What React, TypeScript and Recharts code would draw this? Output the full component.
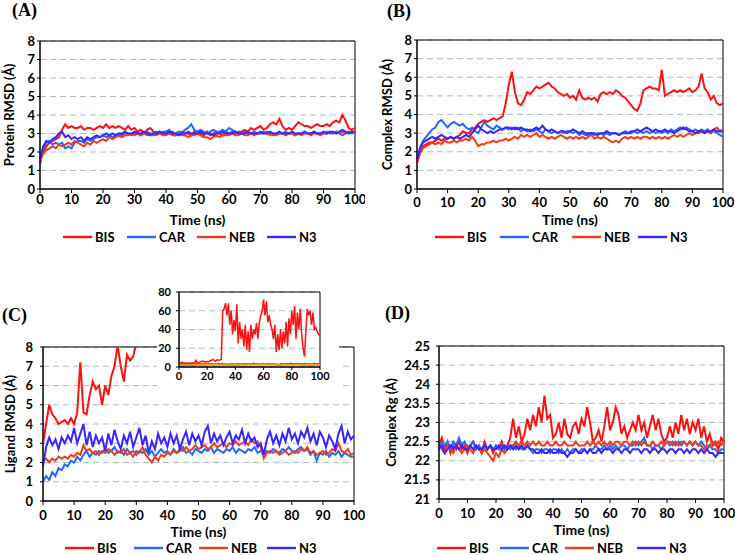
import React from 'react';
import { LineChart, Line, XAxis, YAxis, CartesianGrid, ReferenceArea, Label } from 'recharts';

const TIME = [
  0, 1, 2, 3, 4, 5, 6, 7, 8, 9, 10, 11, 12, 13, 14, 15, 16, 17, 18, 19,
  20, 21, 22, 23, 24, 25, 26, 27, 28, 29, 30, 31, 32, 33, 34, 35, 36, 37, 38, 39,
  40, 41, 42, 43, 44, 45, 46, 47, 48, 49, 50, 51, 52, 53, 54, 55, 56, 57, 58, 59,
  60, 61, 62, 63, 64, 65, 66, 67, 68, 69, 70, 71, 72, 73, 74, 75, 76, 77, 78, 79,
  80, 81, 82, 83, 84, 85, 86, 87, 88, 89, 90, 91, 92, 93, 94, 95, 96, 97, 98, 99, 100,
];

const SERIES = ['BIS', 'CAR', 'NEB', 'N3'];
const X_TICKS = [0, 10, 20, 30, 40, 50, 60, 70, 80, 90, 100];
const RMSD_TICKS = [0, 1, 2, 3, 4, 5, 6, 7, 8];
const RG_TICKS = [21, 21.5, 22, 22.5, 23, 23.5, 24, 24.5, 25];
const INSET_X_TICKS = [0, 20, 40, 60, 80, 100];
const INSET_Y_TICKS = [0, 20, 40, 60, 80];

// (A) Protein RMSD
const A_BIS = [
  1.5, 2.0, 2.3, 2.5, 2.6, 2.7, 2.8, 3.2, 3.5, 3.3, 3.4, 3.3, 3.3, 3.4, 3.2, 3.3, 3.3, 3.2, 3.3, 3.4,
  3.3, 3.5, 3.3, 3.4, 3.3, 3.4, 3.3, 3.2, 3.4, 3.2, 3.3, 3.1, 3.2, 3.0, 3.2, 3.3, 3.1, 3.0, 3.1, 3.0,
  3.1, 3.0, 3.1, 2.9, 3.0, 3.1, 3.0, 3.0, 2.9, 3.1, 3.0, 3.0, 2.9, 3.1, 2.9, 3.0, 3.1, 3.0, 2.9, 3.1,
  3.0, 3.1, 3.0, 3.1, 3.1, 3.2, 3.1, 3.3, 3.2, 3.3, 3.4, 3.2, 3.3, 3.5, 3.6, 3.5, 3.8, 3.4, 3.2, 3.3,
  3.2, 3.4, 3.6, 3.5, 3.4, 3.4, 3.3, 3.4, 3.5, 3.4, 3.4, 3.5, 3.4, 3.6, 3.7, 3.6, 4.0, 3.7, 3.3, 3.2, 3.3,
];
const A_CAR = [
  1.3, 2.2, 2.5, 2.6, 2.4, 2.5, 2.4, 2.5, 2.2, 2.3, 2.2, 2.5, 2.6, 2.6, 2.5, 2.7, 2.6, 2.7, 2.8, 2.8,
  2.9, 2.8, 2.9, 2.8, 2.9, 3.0, 2.9, 3.0, 3.0, 2.9, 3.0, 3.0, 2.9, 3.0, 3.1, 3.0, 3.0, 3.1, 3.0, 3.1,
  3.1, 3.2, 3.0, 3.0, 3.1, 3.0, 3.2, 3.3, 3.5, 3.2, 3.1, 3.2, 3.1, 3.0, 3.1, 3.2, 3.1, 3.1, 3.2, 3.1,
  3.3, 3.2, 3.1, 3.0, 3.0, 3.1, 3.0, 3.0, 3.1, 3.0, 3.0, 3.0, 3.1, 3.0, 2.9, 3.0, 3.0, 3.0, 3.1, 3.0,
  3.0, 2.9, 3.0, 3.0, 3.1, 3.0, 3.0, 3.1, 3.0, 3.0, 3.0, 3.1, 3.0, 3.0, 3.1, 3.0, 2.9, 3.0, 3.1, 3.0, 3.1,
];
const A_NEB = [
  1.5, 1.9, 2.1, 2.2, 2.3, 2.2, 2.4, 2.3, 2.4, 2.5, 2.4, 2.6, 2.5, 2.4, 2.3, 2.5, 2.4, 2.6, 2.5, 2.6,
  2.7, 2.6, 2.8, 2.7, 2.8, 2.9, 2.8, 2.9, 2.9, 3.0, 2.9, 3.0, 2.9, 3.0, 2.9, 3.0, 2.9, 2.9, 3.0, 2.9,
  2.9, 3.0, 2.9, 2.9, 3.0, 2.9, 2.9, 2.8, 2.9, 2.9, 3.0, 2.9, 2.8, 2.8, 2.7, 2.8, 2.9, 2.8, 2.9, 2.9,
  2.9, 3.0, 2.9, 2.9, 3.0, 2.9, 2.9, 3.0, 2.9, 3.0, 3.0, 3.1, 3.0, 2.9, 3.0, 2.9, 3.0, 3.0, 2.9, 3.0,
  3.0, 2.9, 3.0, 2.9, 3.0, 3.0, 2.9, 3.0, 3.0, 2.9, 3.0, 3.0, 3.1, 3.0, 3.1, 3.0, 3.1, 3.0, 3.1, 3.1, 3.0,
];
const A_N3 = [
  1.6, 2.3, 2.6, 2.5, 2.7, 2.8, 3.0, 3.1, 2.8, 2.9, 2.7, 2.8, 2.7, 2.8, 2.6, 2.8, 2.7, 2.8, 2.9, 2.8,
  2.9, 3.0, 2.9, 3.0, 2.9, 3.0, 3.0, 3.1, 3.0, 3.0, 3.1, 3.0, 3.0, 3.1, 3.0, 2.9, 3.0, 3.0, 3.1, 3.0,
  3.0, 3.1, 3.0, 3.0, 2.9, 3.0, 3.0, 3.1, 3.0, 3.0, 3.0, 3.1, 3.0, 3.0, 3.0, 2.9, 3.0, 3.0, 3.1, 3.0,
  3.0, 3.0, 3.1, 3.0, 3.0, 3.0, 3.1, 3.0, 3.0, 3.0, 3.1, 3.0, 3.0, 3.1, 3.0, 3.0, 3.1, 3.0, 3.0, 3.0,
  3.1, 3.0, 3.0, 3.0, 3.1, 3.0, 3.0, 3.1, 3.0, 3.0, 3.1, 3.0, 3.1, 3.1, 3.0, 3.1, 3.2, 3.1, 3.0, 3.1, 3.1,
];

// (B) Complex RMSD
const B_BIS = [
  1.4, 2.0, 2.3, 2.4, 2.5, 2.5, 2.6, 2.7, 2.6, 2.7, 2.7, 2.8, 2.7, 2.8, 2.9, 3.1, 3.0, 3.0, 3.2, 3.3,
  3.5, 3.6, 3.7, 3.6, 3.7, 3.8, 3.7, 3.8, 3.9, 4.6, 5.6, 6.3, 5.2, 4.6, 4.5, 4.8, 5.2, 5.1, 5.3, 5.5,
  5.4, 5.5, 5.6, 5.7, 5.5, 5.4, 5.2, 5.1, 5.0, 5.1, 4.9, 5.0, 4.8, 5.3, 4.9, 4.8, 4.9, 4.8, 4.9, 4.7,
  5.1, 5.2, 5.1, 5.2, 5.1, 5.3, 5.2, 5.0, 4.9, 4.7, 4.5, 4.3, 4.2, 4.6, 5.3, 5.4, 5.5, 5.4, 5.4, 5.3,
  6.4, 5.0, 5.1, 5.2, 5.3, 5.2, 5.3, 5.2, 5.3, 5.4, 5.2, 5.3, 5.5, 6.2, 5.4, 5.2, 4.8, 5.0, 4.6, 4.5, 4.6,
];
const B_CAR = [
  1.5, 2.2, 2.6, 2.8, 3.0, 3.2, 3.3, 3.6, 3.7, 3.5, 3.3, 3.5, 3.6, 3.5, 3.4, 3.5, 3.3, 3.2, 3.3, 3.1,
  3.0, 3.3, 3.6, 3.4, 3.3, 3.2, 3.4, 3.3, 3.2, 3.3, 3.2, 3.3, 3.2, 3.3, 3.1, 3.2, 3.1, 3.2, 3.1, 3.2,
  3.1, 3.0, 3.2, 3.1, 3.0, 3.1, 3.0, 3.1, 3.0, 3.1, 3.1, 3.0, 3.1, 2.9, 3.0, 2.9, 2.9, 3.0, 2.9, 3.0,
  3.0, 2.9, 3.0, 2.9, 3.0, 3.0, 2.9, 3.0, 3.1, 3.0, 3.0, 3.1, 3.0, 3.1, 3.0, 3.1, 3.0, 3.1, 3.0, 3.1,
  3.0, 3.1, 3.0, 3.2, 3.1, 3.2, 3.3, 3.2, 3.3, 3.2, 3.1, 3.2, 3.1, 3.2, 3.1, 3.2, 3.0, 3.1, 3.0, 2.9, 2.8,
];
const B_NEB = [
  1.4, 1.9, 2.2, 2.3, 2.4, 2.5, 2.4, 2.5, 2.4, 2.6, 2.5, 2.5, 2.6, 2.5, 2.6, 2.6, 2.7, 2.6, 2.8, 2.6,
  2.3, 2.4, 2.4, 2.5, 2.5, 2.6, 2.5, 2.6, 2.6, 2.7, 2.6, 2.7, 2.8, 2.7, 2.9, 2.8, 2.9, 2.8, 2.9, 3.0,
  2.8, 2.9, 2.8, 2.7, 2.8, 2.7, 2.8, 2.9, 2.8, 2.7, 2.8, 2.7, 2.8, 2.7, 2.8, 2.7, 2.8, 2.9, 2.7, 2.8,
  2.7, 2.8, 2.7, 2.6, 2.5, 2.6, 2.5, 2.7, 2.8, 2.7, 2.8, 2.7, 2.8, 2.7, 2.8, 2.8, 2.7, 2.8, 2.7, 2.8,
  2.7, 2.8, 2.7, 2.8, 2.9, 2.8, 2.9, 2.8, 2.9, 3.0, 2.9, 3.0, 3.0, 3.1, 3.0, 3.1, 3.0, 3.2, 3.3, 3.1, 3.2,
];
const B_N3 = [
  1.6, 2.2, 2.5, 2.6, 2.7, 2.8, 2.7, 2.8, 2.9, 2.8, 2.7, 2.8, 2.7, 2.8, 2.7, 2.8, 2.9, 2.8, 3.0, 3.2,
  3.4, 3.2, 3.1, 3.0, 3.1, 3.0, 3.1, 3.2, 3.2, 3.3, 3.3, 3.2, 3.3, 3.2, 3.3, 3.2, 3.2, 3.1, 3.2, 3.3,
  3.2, 3.4, 3.2, 3.1, 3.2, 3.1, 3.0, 3.1, 3.1, 3.0, 3.1, 3.2, 3.1, 3.0, 3.1, 3.0, 3.0, 3.0, 3.0, 2.9,
  3.0, 3.0, 3.1, 3.0, 3.0, 3.0, 2.9, 3.0, 3.0, 3.0, 3.1, 3.1, 3.2, 3.1, 3.2, 3.3, 3.2, 3.1, 3.2, 3.1,
  3.1, 3.2, 3.1, 3.1, 3.0, 3.1, 3.2, 3.3, 3.2, 3.1, 3.1, 3.0, 3.1, 3.1, 3.0, 3.1, 3.1, 3.2, 3.1, 3.1, 3.1,
];

// (C) Ligand RMSD (BIS also drawn in full in the inset)
const C_BIS = [
  3.0, 4.0, 5.0, 4.5, 4.3, 4.0, 4.1, 4.2, 4.0, 4.3, 4.0, 4.6, 7.2, 4.6, 4.5, 5.5, 6.2, 5.8, 6.0, 5.0,
  6.0, 5.5, 6.5, 7.0, 8.1, 7.0, 6.2, 7.6, 7.3, 7.5, 8.2, 60, 62, 68, 55, 68, 45, 60, 35, 50,
  38, 67, 25, 48, 30, 40, 22, 45, 18, 38, 16, 45, 30, 40, 35, 47, 30, 48, 55, 60,
  72, 55, 70, 48, 55, 45, 40, 30, 45, 16, 35, 18, 40, 20, 38, 25, 48, 22, 52, 35,
  60, 45, 65, 30, 58, 40, 62, 35, 20, 11, 40, 62, 55, 60, 45, 58, 40, 42, 38, 35, 33,
];
const C_CAR = [
  1.0, 1.3, 1.1, 1.5, 1.3, 1.7, 1.6, 1.9, 1.8, 2.1, 2.0, 2.3, 2.1, 2.4, 2.6, 2.3, 2.5, 2.4, 2.6, 2.5,
  2.7, 2.5, 2.6, 2.8, 2.5, 2.6, 2.4, 2.7, 2.5, 2.6, 2.4, 2.6, 2.5, 2.7, 2.4, 2.6, 2.3, 2.5, 2.7, 2.5,
  2.6, 2.4, 2.7, 2.5, 2.6, 2.8, 2.5, 2.6, 2.4, 2.7, 2.6, 2.5, 2.7, 2.6, 2.8, 2.5, 2.7, 2.6, 2.5, 2.7,
  2.6, 2.8, 2.5, 2.7, 2.6, 2.5, 2.7, 2.6, 2.8, 2.5, 2.6, 2.4, 2.6, 2.5, 2.7, 2.6, 2.5, 2.7, 2.6, 2.8,
  2.6, 2.5, 2.7, 2.8, 2.6, 2.7, 2.4, 2.6, 2.1, 2.5, 2.4, 2.6, 2.3, 2.5, 2.4, 2.6, 2.3, 2.5, 2.4, 2.3, 2.3,
];
const C_NEB = [
  2.1, 2.2, 2.0, 2.2, 2.1, 2.3, 2.2, 2.3, 2.2, 2.4, 2.3, 2.5, 2.4, 2.9, 2.6, 2.7, 2.5, 2.6, 2.4, 2.6,
  2.5, 2.7, 2.6, 2.4, 2.6, 2.5, 2.7, 2.4, 2.5, 2.3, 2.6, 2.5, 2.8, 2.4, 2.2, 2.0, 2.3, 2.1, 2.4, 2.3,
  2.5, 2.4, 2.6, 2.5, 2.7, 2.6, 2.8, 2.6, 2.7, 2.9, 2.7, 2.8, 2.9, 2.7, 2.8, 3.0, 2.8, 2.9, 3.0, 2.8,
  3.0, 2.9, 3.1, 2.9, 3.0, 3.1, 2.9, 3.2, 3.0, 3.1, 2.8, 2.2, 2.5, 2.6, 2.5, 2.6, 2.4, 2.5, 2.6, 2.4,
  2.5, 2.6, 2.5, 2.7, 2.6, 2.8, 2.5, 2.6, 2.4, 2.5, 2.6, 2.4, 2.5, 2.7, 2.6, 3.0, 2.6, 2.5, 2.7, 2.4, 2.5,
];
const C_N3 = [
  1.8, 2.8, 3.3, 2.9, 3.2, 2.7, 3.3, 3.0, 3.4, 3.1, 3.8, 3.0, 3.5, 4.0, 2.9, 3.6, 2.8, 3.4, 3.0, 3.3,
  2.6, 3.5, 2.9, 3.7, 3.1, 2.7, 3.4, 3.0, 3.6, 2.8, 3.3, 3.8, 2.9, 3.4, 2.5, 3.1, 2.7, 3.5, 3.0, 3.3,
  2.8, 3.5, 3.0, 3.4, 2.7, 3.2, 3.6, 2.9, 3.5, 3.1, 3.4, 2.9, 3.6, 3.9, 3.0, 3.5, 3.1, 3.4, 2.9, 3.3,
  3.6, 3.0, 3.4, 3.2, 3.7, 3.0, 3.5, 3.1, 3.3, 2.8, 3.0, 2.4, 3.2, 3.6, 3.0, 3.4, 2.9, 3.5, 3.1, 3.8,
  3.2, 3.5, 3.0, 3.6, 3.3, 3.8, 3.1, 3.5, 2.9, 3.6, 3.3, 2.8, 3.4, 3.1, 2.7, 3.5, 3.9, 3.0, 3.6, 3.2, 3.4,
];

// (D) Complex Rg
const D_BIS = [
  22.4, 22.6, 22.3, 22.5, 22.2, 22.4, 22.3, 22.5, 22.3, 22.4, 22.2, 22.4, 22.5, 22.3, 22.4, 22.2, 22.5, 22.3, 22.4, 22.2,
  22.4, 22.3, 22.5, 22.3, 22.4, 22.6, 23.1, 22.6, 22.9, 22.5, 22.7, 23.1, 22.8, 23.2, 22.9, 23.4, 23.0, 23.7, 23.1, 23.2,
  22.6, 22.7, 23.0, 22.6, 23.1, 22.7, 22.6, 22.9, 23.0, 22.7, 23.1, 22.9, 23.4, 23.0, 22.5, 22.6, 22.8, 22.5, 22.9, 23.4,
  22.8, 23.0, 23.4, 23.2, 22.7, 22.9, 22.6, 22.8, 23.0, 22.8, 23.2, 22.8, 23.0, 22.6, 22.9, 23.2, 22.8, 23.1, 22.7, 22.5,
  22.6, 22.9, 22.6, 23.0, 22.7, 23.2, 22.8, 23.1, 22.7, 23.0, 22.8, 23.1, 22.6, 22.9, 22.5, 22.7, 22.4, 22.5, 22.3, 22.6, 22.5,
];
const D_CAR = [
  22.3, 22.5, 22.4, 22.5, 22.3, 22.5, 22.4, 22.6, 22.4, 22.5, 22.3, 22.4, 22.5, 22.3, 22.4, 22.3, 22.4, 22.3, 22.4, 22.3,
  22.4, 22.3, 22.4, 22.3, 22.4, 22.3, 22.4, 22.3, 22.4, 22.3, 22.3, 22.4, 22.3, 22.2, 22.3, 22.3, 22.2, 22.3, 22.3, 22.2,
  22.3, 22.3, 22.2, 22.3, 22.2, 22.3, 22.2, 22.3, 22.3, 22.2, 22.3, 22.3, 22.2, 22.3, 22.3, 22.4, 22.3, 22.3, 22.4, 22.3,
  22.4, 22.3, 22.4, 22.3, 22.4, 22.4, 22.3, 22.4, 22.4, 22.5, 22.4, 22.5, 22.6, 22.4, 22.4, 22.3, 22.4, 22.4, 22.3, 22.4,
  22.5, 22.4, 22.5, 22.4, 22.5, 22.4, 22.5, 22.4, 22.5, 22.4, 22.5, 22.4, 22.5, 22.4, 22.3, 22.4, 22.3, 22.3, 22.2, 22.3, 22.3,
];
const D_NEB = [
  22.4, 22.3, 22.2, 22.4, 22.3, 22.2, 22.4, 22.3, 22.2, 22.3, 22.4, 22.3, 22.2, 22.4, 22.3, 22.2, 22.3, 22.2, 22.1, 22.0,
  22.2, 22.1, 22.3, 22.2, 22.3, 22.4, 22.4, 22.5, 22.4, 22.5, 22.4, 22.5, 22.4, 22.5, 22.4, 22.5, 22.4, 22.4, 22.5, 22.4,
  22.4, 22.5, 22.4, 22.4, 22.5, 22.4, 22.4, 22.4, 22.5, 22.4, 22.4, 22.4, 22.5, 22.4, 22.5, 22.4, 22.5, 22.4, 22.5, 22.4,
  22.5, 22.4, 22.5, 22.5, 22.4, 22.5, 22.5, 22.4, 22.5, 22.4, 22.5, 22.4, 22.5, 22.4, 22.4, 22.5, 22.4, 22.4, 22.5, 22.4,
  22.5, 22.5, 22.4, 22.5, 22.4, 22.5, 22.5, 22.4, 22.5, 22.4, 22.5, 22.4, 22.4, 22.3, 22.4, 22.4, 22.5, 22.4, 22.5, 22.4, 22.5,
];
const D_N3 = [
  22.3, 22.4, 22.2, 22.3, 22.4, 22.3, 22.4, 22.3, 22.4, 22.3, 22.3, 22.4, 22.3, 22.4, 22.3, 22.3, 22.4, 22.3, 22.4, 22.3,
  22.3, 22.4, 22.3, 22.4, 22.3, 22.4, 22.3, 22.4, 22.3, 22.4, 22.3, 22.4, 22.3, 22.3, 22.2, 22.2, 22.3, 22.2, 22.2, 22.3,
  22.2, 22.2, 22.3, 22.2, 22.2, 22.1, 22.2, 22.2, 22.3, 22.2, 22.2, 22.3, 22.2, 22.3, 22.2, 22.2, 22.3, 22.2, 22.3, 22.3,
  22.3, 22.2, 22.3, 22.3, 22.2, 22.3, 22.3, 22.2, 22.3, 22.3, 22.3, 22.2, 22.3, 22.3, 22.2, 22.3, 22.3, 22.2, 22.3, 22.3,
  22.2, 22.3, 22.3, 22.2, 22.3, 22.3, 22.2, 22.3, 22.2, 22.3, 22.3, 22.2, 22.3, 22.2, 22.3, 22.2, 22.2, 22.1, 22.2, 22.2, 22.2,
];

const COLORS: Record<string, string> = { BIS: '#ff1010', CAR: '#1f6bff', NEB: '#f23c18', N3: '#3826ff' };
const INSET_COLORS: Record<string, string> = { BIS: '#ff1010', CAR: '#2b5aa6', NEB: '#f5a021', N3: '#3a7a3a' };

const FONT = 'Lato, "Open Sans", sans-serif';
const GRID = '#a9bfbf';

const buildRows = (bis: number[], car: number[], neb: number[], n3: number[]) =>
  TIME.map((t, i) => ({ t, BIS: bis[i], CAR: car[i], NEB: neb[i], N3: n3[i] }));

interface PanelProps {
  left: number;
  top: number;
  width: number;
  height: number;
  margin: { top: number; right: number; left: number; bottom: number };
  yWidth: number;
  yDomain: [number, number];
  yTicks: number[];
  yTickMargin: number;
  yTitle: string;
  yTitleX: number;
  xTickMargin: number;
  rows: any[];
}

const X_AXIS_H = 36;

const Panel: React.FC<PanelProps> = (p) => {
  const plotH = p.height - p.margin.top - p.margin.bottom - X_AXIS_H;
  const cy = p.margin.top + plotH / 2;
  const tickStyle = { fontFamily: FONT, fontWeight: 700, fontSize: 13, fill: '#000' };
  return (
    <div style={{ position: 'absolute', left: p.left, top: p.top }}>
      <LineChart width={p.width} height={p.height} data={p.rows} margin={p.margin}>
        <CartesianGrid vertical={false} stroke={GRID} strokeDasharray="6 4" />
        <XAxis
          dataKey="t"
          type="number"
          domain={[0, 100]}
          ticks={X_TICKS}
          height={X_AXIS_H}
          stroke="#000"
          tickSize={4}
          tickMargin={p.xTickMargin}
          tick={tickStyle}
          interval={0}
        >
          <Label
            value="Time (ns)"
            position="insideBottom"
            offset={0}
            style={{ fontFamily: FONT, fontWeight: 700, fontSize: 14, fill: '#000' }}
          />
        </XAxis>
        <YAxis
          type="number"
          domain={p.yDomain}
          ticks={p.yTicks}
          allowDataOverflow
          width={p.yWidth}
          stroke="#000"
          tickSize={3}
          tickMargin={p.yTickMargin}
          tick={tickStyle}
          interval={0}
        >
          <Label
            content={() => (
              <text
                x={p.yTitleX}
                y={cy}
                transform={`rotate(-90 ${p.yTitleX} ${cy})`}
                textAnchor="middle"
                dominantBaseline="central"
                fontFamily={FONT}
                fontWeight={700}
                fontSize={13}
                fill="#000"
              >
                {p.yTitle}
              </text>
            )}
          />
        </YAxis>
        <ReferenceArea x1={0} x2={100} y1={p.yDomain[0]} y2={p.yDomain[1]} fill="none" stroke="#000" strokeWidth={1} />
        {SERIES.map((s) => (
          <Line
            key={s}
            type="linear"
            dataKey={s}
            stroke={COLORS[s]}
            strokeWidth={2}
            dot={false}
            isAnimationActive={false}
          />
        ))}
      </LineChart>
    </div>
  );
};

const LegendRow: React.FC<{ top: number; xs: number[] }> = ({ top, xs }) => (
  <>
    {SERIES.map((s, i) => (
      <div
        key={s}
        style={{
          position: 'absolute',
          left: xs[i],
          top,
          height: 16,
          display: 'flex',
          alignItems: 'center',
          fontFamily: FONT,
          fontWeight: 700,
          fontSize: 13,
          lineHeight: '16px',
        }}
      >
        <svg width={29} height={4} style={{ display: 'block' }}>
          <line x1={0} y1={2} x2={29} y2={2} stroke={COLORS[s]} strokeWidth={2.4} />
        </svg>
        <span style={{ marginLeft: 3 }}>{s}</span>
      </div>
    ))}
  </>
);

const PanelTag: React.FC<{ left: number; top: number; text: string }> = ({ left, top, text }) => (
  <div
    style={{
      position: 'absolute',
      left,
      top,
      fontFamily: '"Liberation Serif", serif',
      fontWeight: 700,
      fontSize: 18,
      lineHeight: '18px',
    }}
  >
    {text}
  </div>
);

const Inset: React.FC<{ rows: any[] }> = ({ rows }) => {
  const tickStyle = { fontFamily: FONT, fontWeight: 700, fontSize: 11, fill: '#000' };
  return (
    <div style={{ position: 'absolute', left: 157, top: 281, width: 182, height: 106, background: '#fff' }}>
      <LineChart width={182} height={106} data={rows} margin={{ top: 11, right: 19, left: 0, bottom: 2 }}>
        <CartesianGrid vertical={false} stroke={GRID} strokeDasharray="6 4" />
        <XAxis
          dataKey="t"
          type="number"
          domain={[0, 100]}
          ticks={INSET_X_TICKS}
          height={18}
          stroke="#000"
          tickSize={3}
          tickMargin={2}
          tick={tickStyle}
          interval={0}
        />
        <YAxis
          type="number"
          domain={[0, 80]}
          ticks={INSET_Y_TICKS}
          width={22}
          stroke="#000"
          tickSize={3}
          tickMargin={5}
          tick={tickStyle}
          interval={0}
        />
        <ReferenceArea x1={0} x2={100} y1={0} y2={80} fill="none" stroke="#000" strokeWidth={1} />
        {['CAR', 'N3', 'NEB', 'BIS'].map((s) => (
          <Line
            key={s}
            type="linear"
            dataKey={s}
            stroke={INSET_COLORS[s]}
            strokeWidth={1.5}
            dot={false}
            isAnimationActive={false}
          />
        ))}
      </LineChart>
    </div>
  );
};

const App: React.FC = () => {
  const rowsA = buildRows(A_BIS, A_CAR, A_NEB, A_N3);
  const rowsB = buildRows(B_BIS, B_CAR, B_NEB, B_N3);
  const rowsC = buildRows(C_BIS, C_CAR, C_NEB, C_N3);
  const rowsD = buildRows(D_BIS, D_CAR, D_NEB, D_N3);

  return (
    <div style={{ position: 'absolute', left: 0, top: 0, width: 735, height: 555, background: '#fff', overflow: 'hidden' }}>
      <PanelTag left={12} top={1} text="(A)" />
      <PanelTag left={387} top={2} text="(B)" />
      <PanelTag left={2} top={306} text="(C)" />
      <PanelTag left={385} top={304} text="(D)" />

      <Panel
        left={0}
        top={0}
        width={365}
        height={232}
        margin={{ top: 41, right: 10, left: 0, bottom: 7 }}
        yWidth={40}
        yDomain={[0, 8]}
        yTicks={RMSD_TICKS}
        yTickMargin={2}
        yTitle="Protein RMSD (Å)"
        yTitleX={9}
        xTickMargin={2}
        rows={rowsA}
      />
      <Panel
        left={365}
        top={0}
        width={370}
        height={232}
        margin={{ top: 40, right: 12, left: 0, bottom: 7 }}
        yWidth={52}
        yDomain={[0, 8]}
        yTicks={RMSD_TICKS}
        yTickMargin={2}
        yTitle="Complex RMSD (Å)"
        yTitleX={22}
        xTickMargin={5}
        rows={rowsB}
      />
      <Panel
        left={0}
        top={275}
        width={365}
        height={266}
        margin={{ top: 72, right: 11, left: 0, bottom: 4 }}
        yWidth={43}
        yDomain={[0, 8]}
        yTicks={RMSD_TICKS}
        yTickMargin={7}
        yTitle="Ligand RMSD (Å)"
        yTitleX={10}
        xTickMargin={6}
        rows={rowsC}
      />
      <Panel
        left={365}
        top={275}
        width={370}
        height={264}
        margin={{ top: 71, right: 11, left: 0, bottom: 4 }}
        yWidth={74}
        yDomain={[21, 25]}
        yTicks={RG_TICKS}
        yTickMargin={6}
        yTitle="Complex Rg (Å)"
        yTitleX={26}
        xTickMargin={6}
        rows={rowsD}
      />

      <Inset rows={rowsC} />

      <LegendRow top={229} xs={[63, 127, 197, 267]} />
      <LegendRow top={229} xs={[435, 500, 572, 638]} />
      <LegendRow top={540} xs={[65, 134, 199, 267]} />
      <LegendRow top={540} xs={[437, 500, 565, 637]} />
    </div>
  );
};

export default App;
